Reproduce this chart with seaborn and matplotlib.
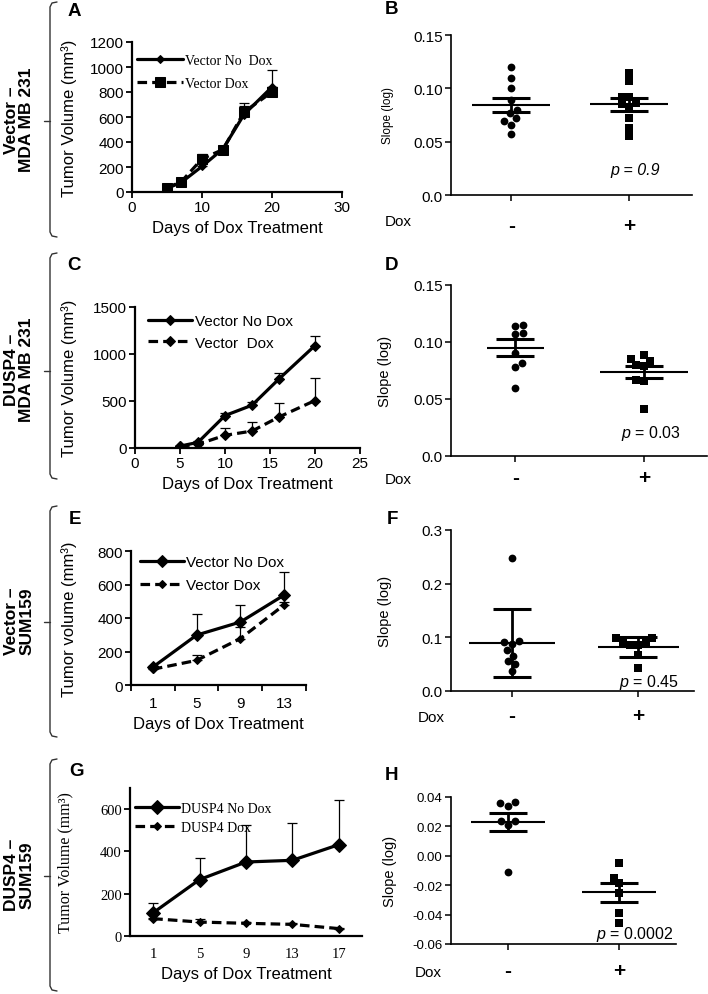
import numpy as np
import seaborn as sns
import matplotlib.pyplot as plt
from matplotlib.lines import Line2D

sns.set_style('ticks')
plt.rcParams['font.family'] = ['Liberation Sans', 'DejaVu Sans']
plt.rcParams['mathtext.fontset'] = 'custom'
plt.rcParams['mathtext.it'] = 'Liberation Sans:italic'
plt.rcParams['mathtext.rm'] = 'Liberation Sans'
plt.rcParams['axes.unicode_minus'] = False
for key in ['text.color', 'axes.labelcolor', 'xtick.color', 'ytick.color', 'axes.edgecolor']:
    plt.rcParams[key] = 'black'

# ---- growth curves (mean tumour volume, upward error) ----
a_days = [5, 7, 10, 13, 16, 20]
a_nodox = [30, 75, 205, 345, 620, 840]
a_nodox_err = [10, 10, 20, 20, 90, 135]
a_dox = [35, 80, 265, 340, 640, 800]
a_dox_err = [10, 10, 40, 25, 50, 40]

c_days = [5, 7, 10, 13, 16, 20]
c_nodox = [20, 60, 345, 455, 735, 1090]
c_nodox_err = [5, 10, 30, 35, 60, 105]
c_dox = [18, 40, 135, 180, 330, 505]
c_dox_err = [5, 10, 78, 92, 145, 240]

e_days = ['1', '5', '9', '13']
e_nodox = [107, 298, 376, 537]
e_nodox_err = [5, 124, 104, 136]
e_dox = [94, 147, 277, 478]
e_dox_err = [5, 32, 70, 15]

g_days = ['1', '5', '9', '13', '17']
g_nodox = [110, 267, 350, 358, 432]
g_nodox_err = [44, 102, 176, 176, 209]
g_dox = [82, 66, 60, 55, 35]
g_dox_err = [3, 16, 5, 5, 5]

# ---- slopes, Dox - / Dox + ----
dox_groups = ['-', '+']
b_minus = [0.120, 0.110, 0.100, 0.089, 0.080, 0.077, 0.072, 0.069, 0.066, 0.057]
b_plus = [0.114, 0.107, 0.092, 0.092, 0.086, 0.085, 0.082, 0.072, 0.063, 0.055]
b_mean = [0.084, 0.085]
b_err = [0.0065, 0.006]

d_minus = [0.115, 0.114, 0.108, 0.107, 0.090, 0.082, 0.078, 0.060]
d_plus = [0.089, 0.085, 0.083, 0.080, 0.079, 0.067, 0.066, 0.041]
d_mean = [0.095, 0.074]
d_err = [0.0072, 0.0052]

f_minus = [0.247, 0.094, 0.092, 0.088, 0.076, 0.066, 0.055, 0.050, 0.037]
f_plus = [0.098, 0.098, 0.090, 0.090, 0.086, 0.086, 0.068, 0.043]
f_mean = [0.089, 0.082]
f_err = [0.063, 0.018]

h_minus = [0.0366, 0.0360, 0.0337, 0.024, 0.024, 0.0212, -0.0107]
h_plus = [-0.0048, -0.0148, -0.0188, -0.0256, -0.0392, -0.0455]
h_mean = [0.0232, -0.0249]
h_err = [0.0062, 0.0063]

W, H = 708, 995
fig = plt.figure(figsize=(W / 100, H / 100), dpi=100)


def box(l, t, r, b):
    return [l / W, 1 - b / H, (r - l) / W, (b - t) / H]


def ftxt(x, y, s, **kw):
    fig.text(x / W, 1 - y / H, s, ha='center', va='center', **kw)


def style_spines(ax, lw):
    ax.spines[['top', 'right']].set_visible(False)
    for side in ['left', 'bottom']:
        ax.spines[side].set_linewidth(lw)
        ax.spines[side].set_color('black')


def growth(ax, x, s1, e1, s2, e2, labels, mk, ms):
    sns.lineplot(x=x, y=s1, ax=ax, color='black', lw=2.3, marker=mk[0], markersize=ms[0],
                 markeredgecolor='black', label=labels[0])
    sns.lineplot(x=x, y=s2, ax=ax, color='black', lw=2.3, marker=mk[1], markersize=ms[1],
                 markeredgecolor='black', linestyle=(0, (3, 1.6)), label=labels[1])
    z = np.zeros(len(x))
    ax.errorbar(x, s1, yerr=[z, e1], fmt='none', ecolor='black', elinewidth=0.9, capsize=3.5, capthick=0.9)
    ax.errorbar(x, s2, yerr=[z, e2], fmt='none', ecolor='black', elinewidth=0.9, capsize=3.5, capthick=0.9)
    style_spines(ax, 1.6)
    ax.tick_params(length=4, width=1.3, labelsize=11, pad=2)


def slopes(ax, minus, plus, mean, err, half=(0.33, 0.33)):
    sns.swarmplot(x=['-'] * len(minus), y=minus, order=dox_groups, marker='o', color='black', size=5.6, ax=ax)
    sns.swarmplot(x=['+'] * len(plus), y=plus, order=dox_groups, marker='s', color='black', size=5.4, ax=ax)
    for i in range(2):
        ax.hlines(mean[i], i - half[i], i + half[i], color='black', lw=1.5)
    ax.errorbar([0, 1], mean, yerr=err, fmt='none', ecolor='black', elinewidth=2, capsize=14, capthick=2.2)
    style_spines(ax, 1.2)
    ax.set_xlabel('')


# ---------------- A ----------------
ax = fig.add_axes(box(132, 43, 342, 193))
growth(ax, a_days, a_nodox, a_nodox_err, a_dox, a_dox_err, ['Vector No  Dox', 'Vector Dox'], ['D', 's'], [4.5, 7.5])
ax.set_xlim(0, 30)
ax.set_ylim(0, 1200)
ax.set_xticks([0, 10, 20, 30])
ax.set_yticks(range(0, 1201, 200))
ax.set_xlabel('Days of Dox Treatment', fontsize=12)
ax.set_ylabel('Tumor Volume (mm³)', fontsize=12)
ax.yaxis.set_label_coords((77 - 132) / 210, 0.5)
ax.legend(loc='upper left', bbox_to_anchor=(0.024, 0.92), frameon=False, borderpad=0, borderaxespad=0,
          handlelength=3.3, handletextpad=0.15, labelspacing=0.7, prop={'family': 'Liberation Serif', 'size': 10})

# ---------------- C ----------------
ax = fig.add_axes(box(135, 308, 360, 449))
growth(ax, c_days, c_nodox, c_nodox_err, c_dox, c_dox_err, ['Vector No Dox', 'Vector  Dox'], ['D', 'D'], [5, 5])
ax.set_xlim(0, 25)
ax.set_ylim(0, 1500)
ax.set_xticks(range(0, 26, 5))
ax.set_yticks([0, 500, 1000, 1500])
ax.set_xlabel('Days of Dox Treatment', fontsize=12)
ax.set_ylabel('Tumor Volume (mm³)', fontsize=12)
ax.yaxis.set_label_coords((77 - 135) / 225, 0.5)
ax.legend(loc='upper left', bbox_to_anchor=(0.058, 0.95), frameon=False, borderpad=0, borderaxespad=0,
          handlelength=2.9, handletextpad=0.15, labelspacing=0.5, fontsize=11)

# ---------------- E ----------------
ax = fig.add_axes(box(131, 552, 306, 686))
pos = np.arange(len(e_days))
growth(ax, pos, e_nodox, e_nodox_err, e_dox, e_dox_err, ['Vector No Dox', 'Vector Dox'], ['D', 'D'], [6, 4.5])
ax.set_xlim(-0.5, len(e_days) - 0.5)
ax.set_ylim(0, 800)
ax.set_xticks(pos, e_days)
ax.set_xticks(np.arange(len(e_days) + 1) - 0.5, minor=True)
ax.tick_params(axis='x', which='major', length=0, pad=8)
ax.tick_params(axis='x', which='minor', length=4, width=1.3, direction='out')
ax.set_yticks(range(0, 801, 200))
ax.set_xlabel('Days of Dox Treatment', fontsize=12)
ax.set_ylabel('Tumor volume (mm³)', fontsize=12)
ax.yaxis.set_label_coords((77 - 131) / 175, 0.5)
ax.legend(loc='upper left', bbox_to_anchor=(0.05, 0.97), frameon=False, borderpad=0, borderaxespad=0,
          handlelength=2.9, handletextpad=0.15, labelspacing=0.6, fontsize=11)

# ---------------- G ----------------
ax = fig.add_axes(box(130, 789, 362, 937))
pos = np.arange(len(g_days))
growth(ax, pos, g_nodox, g_nodox_err, g_dox, g_dox_err, ['DUSP4 No Dox', 'DUSP4 Dox'], ['D', 'D'], [7, 4.5])
ax.set_xlim(-0.5, len(g_days) - 0.5)
ax.set_ylim(0, 700)
ax.set_xticks(pos, g_days)
ax.tick_params(axis='x', length=0, pad=8)
ax.set_yticks(range(0, 601, 200))
for lbl in ax.get_xticklabels() + ax.get_yticklabels():
    lbl.set_fontfamily('Liberation Serif')
    lbl.set_fontsize(10.5)
ax.set_xlabel('Days of Dox Treatment', fontsize=12)
ax.set_ylabel('Tumor Volume (mm³)', fontsize=11.5, fontfamily='Liberation Serif')
ax.yaxis.set_label_coords((73 - 130) / 232, 0.5)
ax.legend(loc='upper left', bbox_to_anchor=(0.02, 0.905), frameon=False, borderpad=0, borderaxespad=0,
          handlelength=3.2, handletextpad=0.15, labelspacing=0.4, prop={'family': 'Liberation Serif', 'size': 10})

# ---------------- slope panels ----------------
slope_specs = [
    # minus, plus, mean, err, box, xlim, yticks, yticklabels, ylabel size, tick size,
    # Dox label pos, p pos, ylabel x, x tick pad, mean line half widths
    (b_minus, b_plus, b_mean, b_err, (451, 36, 692, 196), (-0.51, 1.53), [0, 0.05, 0.10, 0.15],
     ['0.0', '0.05', '0.10', '0.15'], 8.5, 11, (398, 222), (635, 170), 394, 11, (0.33, 0.33)),
    (d_minus, d_plus, d_mean, d_err, (451, 286, 707, 457), (-0.5, 1.49), [0, 0.05, 0.10, 0.15],
     ['0.0', '0.05', '0.10', '0.15'], 10.5, 11, (398, 480), (651, 434), 392, 4.5, (0.22, 0.34)),
    (f_minus, f_plus, f_mean, f_err, (451, 531, 694, 692), (-0.48, 1.44), [0, 0.1, 0.2, 0.3],
     ['0.0', '0.1', '0.2', '0.3'], 10.5, 11, (431, 718), (649, 683), 392, 6.5, (0.34, 0.32)),
    (h_minus, h_plus, h_mean, h_err, (451, 798, 676, 945), (-0.51, 1.51), [-0.06, -0.04, -0.02, 0, 0.02, 0.04],
     ['-0.06', '-0.04', '-0.02', '0.00', '0.02', '0.04'], 10.5, 9.5, (428, 973), (635, 935), 397, 8, (0.33, 0.33)),
]
p_texts = [('p = 0.9', 'italic'), ('$\\it{p}$ = 0.03', 'normal'),
           ('$\\it{p}$ = 0.45', 'normal'), ('$\\it{p}$ = 0.0002', 'normal')]

for spec, (ptxt, pstyle) in zip(slope_specs, p_texts):
    mn, pl, me, er, bx, xl, yt, ytl, ylsize, tsize, doxpos, ppos, labx, pad, half = spec
    ax = fig.add_axes(box(*bx))
    slopes(ax, mn, pl, me, er, half)
    ax.set_xlim(*xl)
    ax.set_ylim(yt[0], yt[-1])
    ax.set_yticks(yt, ytl)
    ax.tick_params(axis='y', length=4, width=1.1, labelsize=tsize, pad=2)
    ax.tick_params(axis='x', length=4, width=1.1, labelsize=15, pad=pad)
    for lbl in ax.get_xticklabels():
        lbl.set_fontweight('bold')
    ax.set_ylabel('Slope (log)', fontsize=ylsize)
    ax.yaxis.set_label_coords((labx - bx[0]) / (bx[2] - bx[0]), 0.5)
    ftxt(doxpos[0], doxpos[1], 'Dox', fontsize=11)
    ftxt(ppos[0], ppos[1], ptxt, fontsize=11.5, style=pstyle)

# ---------------- panel letters ----------------
for letter, (x, y) in zip('ABCDEFGH', [(74, 12), (392, 9), (74, 266), (392, 266),
                                       (75, 519), (392, 519), (76, 771), (392, 775)]):
    ftxt(x, y, letter, fontsize=13.5, fontweight='bold')

# ---------------- row labels with brackets ----------------
rows = ['Vector –\nMDA MB 231', 'DUSP4 –\nMDA MB 231', 'Vector –\nSUM159', 'DUSP4 –\nSUM159']
spans = [(3, 238, 122), (254, 480, 372), (507, 738, 623), (760, 992, 877)]
for txt, (top, bot, mid) in zip(rows, spans):
    ftxt(19, mid - 2, txt, fontsize=12.5, fontweight='bold', rotation=90, linespacing=1.05)
    xs = np.array([57, 52, 50, 50, 52, 57]) / W
    ys = 1 - np.array([top, top + 1, top + 5, bot - 5, bot - 1, bot]) / H
    fig.add_artist(Line2D(xs, ys, color='#333333', lw=1.0, transform=fig.transFigure))
    fig.add_artist(Line2D(np.array([44, 50]) / W, 1 - np.array([mid, mid]) / H,
                          color='#333333', lw=1.0, transform=fig.transFigure))

fig.savefig('out.png', dpi=100)
